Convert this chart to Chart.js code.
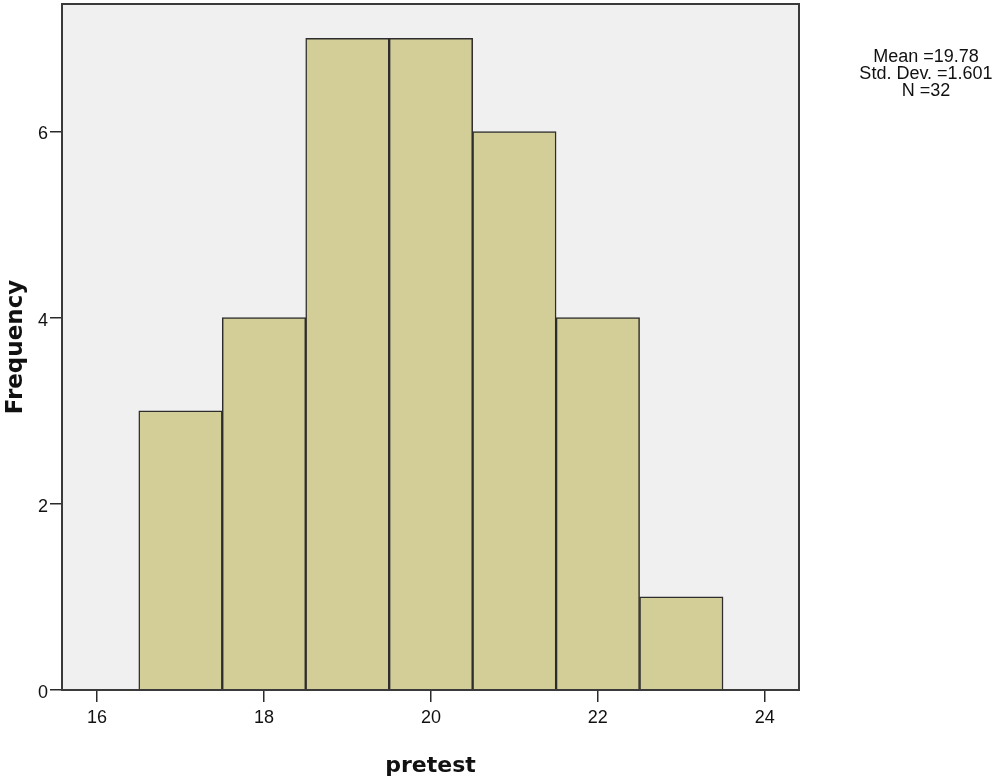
<!DOCTYPE html>
<html>
<head>
<meta charset="utf-8">
<script src="https://cdn.jsdelivr.net/npm/chart.js@4"></script>
<style>
  body { margin: 0; background: #fff; }
</style>
</head>
<body>
<canvas id="myChart" width="995" height="781"></canvas>
<script>
const binCenters = [17, 18, 19, 20, 21, 22, 23];
const frequencies = [3, 4, 7, 7, 6, 4, 1];
const xTicks = [16, 18, 20, 22, 24];
const yTicks = [0, 2, 4, 6];

// summary box, worked out from the bins
const n = frequencies.reduce((a, b) => a + b, 0);
const mean = binCenters.reduce((s, x, i) => s + x * frequencies[i], 0) / n;
const ss = binCenters.reduce((s, x, i) => s + frequencies[i] * (x - mean) ** 2, 0);
const sd = Math.sqrt(ss / (n - 1));
const statsLines = ["Mean =" + mean.toFixed(2), "Std. Dev. =" + sd.toFixed(3), "N =" + n];

const plotBox = {
  id: 'plotBox',
  beforeDraw(chart) {
    const {ctx, chartArea: a} = chart;
    ctx.save();
    ctx.fillStyle = '#f0f0f0';
    ctx.fillRect(a.left, a.top, a.right - a.left, a.bottom - a.top);
    ctx.restore();
  },
  afterDraw(chart) {
    const {ctx, chartArea: a} = chart;
    ctx.save();
    ctx.strokeStyle = '#3a3a3a';
    ctx.lineWidth = 2;
    ctx.strokeRect(a.left, a.top, a.right - a.left, a.bottom - a.top);

    ctx.fillStyle = '#111';
    ctx.font = '18px "Liberation Sans", Arial, sans-serif';
    ctx.textAlign = 'center';
    ctx.textBaseline = 'middle';
    statsLines.forEach((t, i) => ctx.fillText(t, 926, 57 + i * 17));
    ctx.restore();
  }
};

const data = {
  datasets: [{
    data: binCenters.map((x, i) => ({x: x, y: frequencies[i]})),
    backgroundColor: '#d3cd98',
    borderColor: '#2d2d2d',
    borderWidth: 1.5,
    barPercentage: 1,
    categoryPercentage: 1,
  }]
};

const config = {
  type: 'bar',
  data: data,
  plugins: [plotBox],
  options: {
    responsive: false,
    animation: false,
    layout: { padding: { top: 4, right: 196, left: 0, bottom: 0 } },
    plugins: {
      legend: false,
      tooltip: { enabled: false }
    },
    scales: {
      x: {
        type: 'linear',
        min: 15.58,
        max: 24.41,
        offset: false,
        afterBuildTicks: s => { s.ticks = xTicks.map(v => ({value: v})); },
        afterFit: s => { s.height = 91; s.paddingLeft = 0; s.paddingRight = 0; },
        grid: { offset: false, drawOnChartArea: false, color: '#2a2a2a', lineWidth: 1.5, tickLength: 12 },
        border: { display: false },
        ticks: {
          color: '#111',
          padding: 5,
          maxRotation: 0,
          font: { family: '"Liberation Sans", Arial, sans-serif', size: 18 }
        },
        title: {
          display: true,
          text: 'pretest',
          color: '#111',
          padding: { top: 0, bottom: 2 },
          font: { family: '"DejaVu Sans", sans-serif', size: 22, weight: 'bold' }
        }
      },
      y: {
        min: 0,
        max: 7.37,
        afterBuildTicks: s => { s.ticks = yTicks.map(v => ({value: v})); },
        afterFit: s => { s.width = 62; s.paddingTop = 0; s.paddingBottom = 0; },
        grid: { drawOnChartArea: false, color: '#2a2a2a', lineWidth: 1.5, tickLength: 12 },
        border: { display: false },
        ticks: {
          color: '#111',
          padding: 2,
          labelOffset: 3,
          font: { family: '"Liberation Sans", Arial, sans-serif', size: 18 }
        },
        title: {
          display: true,
          text: 'Frequency',
          color: '#111',
          padding: { top: 2, bottom: 0 },
          font: { family: '"DejaVu Sans", sans-serif', size: 23, weight: 'bold' }
        }
      }
    }
  }
};

const myChart = new Chart(document.getElementById('myChart'), config);
</script>
</body>
</html>
